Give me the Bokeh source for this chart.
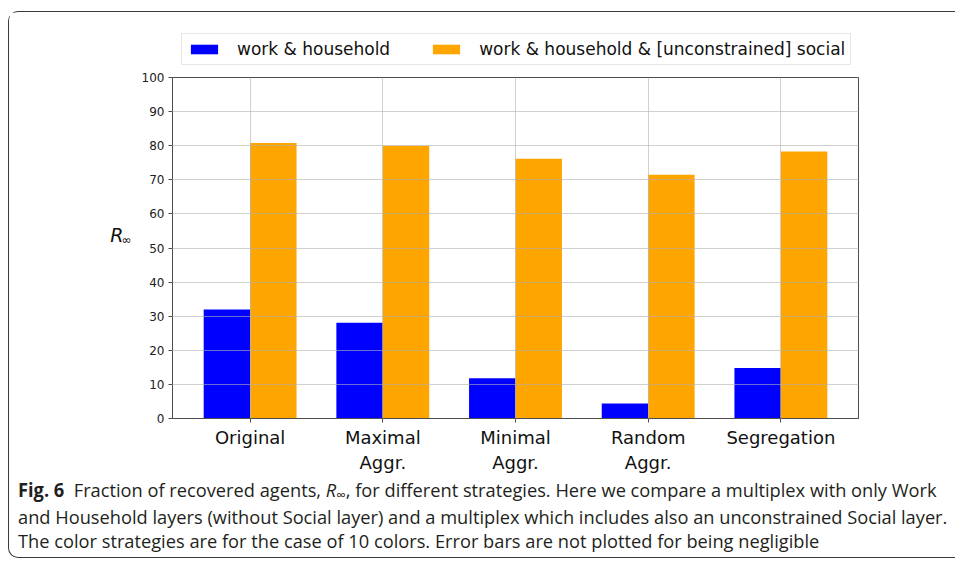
import numpy as np
from bokeh.plotting import figure
from bokeh.models import (Range1d, FixedTicker, Legend, LegendItem, Div,
                          ColumnDataSource, LinearAxis)
from bokeh.layouts import column
from bokeh.transform import dodge
from bokeh.embed import file_html
from bokeh.resources import INLINE

# ---------------- data ----------------
categories = ["Original", "Maximal\nAggr.", "Minimal\nAggr.", "Random\nAggr.", "Segregation"]
work_household = [32.0, 28.1, 11.8, 4.4, 14.8]
work_household_social = [80.8, 80.0, 76.2, 71.5, 78.3]
series_labels = ["work & household", "work & household & [unconstrained] social"]
series_colors = ["#0000ff", "#ffa500"]
y_ticks = [0, 10, 20, 30, 40, 50, 60, 70, 80, 90, 100]

caption_lines = [
    "<b>Fig.&nbsp;6</b>&nbsp;&nbsp;Fraction of recovered agents, <i>R</i><span style='font-size:14px;position:relative;top:3px'>&infin;</span>, for different strategies. Here we compare a multiplex with only Work",
    "and Household layers (without Social layer) and a multiplex which includes also an unconstrained Social layer.",
    "The color strategies are for the case of 10 colors. Error bars are not plotted for being negligible",
]

idx = list(range(len(categories)))
src = ColumnDataSource(dict(idx=idx, wh=work_household, whs=work_household_social))

BAR_W = 0.35

# ---------------- legend strip (above the axes) ----------------
# same bar renderers, but with the ranges set so that nothing is in view:
# only the legend of this strip is visible
lf = figure(width=946, height=60, output_backend="svg", toolbar_location=None,
            x_axis_type=None, y_axis_type=None,
            min_border_left=163, min_border_right=97, min_border_top=0,
            min_border_bottom=0,
            x_range=Range1d(10, 11), y_range=Range1d(200, 300))
lf.outline_line_color = None
lf.background_fill_color = "white"
lf.border_fill_color = "white"
lr1 = lf.vbar(x=dodge("idx", -BAR_W / 2), top="wh", width=BAR_W, source=src,
              fill_color=series_colors[0], line_color=None)
lr2 = lf.vbar(x=dodge("idx", BAR_W / 2), top="whs", width=BAR_W, source=src,
              fill_color=series_colors[1], line_color=None)
legend = Legend(items=[LegendItem(label=series_labels[0], renderers=[lr1]),
                       LegendItem(label=series_labels[1], renderers=[lr2])],
                orientation="horizontal", location=(9, 7),
                glyph_width=34, glyph_height=12, label_standoff=16, spacing=39,
                padding=5, margin=0,
                label_text_font="DejaVu Sans", label_text_font_size="17px",
                label_text_color="#111111",
                border_line_color="#d0d0d0", border_line_width=1,
                background_fill_color="white", background_fill_alpha=1)
lf.add_layout(legend)

# ---------------- main bar chart ----------------
p = figure(width=946, height=406, output_backend="svg", toolbar_location=None,
           x_range=Range1d(-0.585, 4.585), y_range=Range1d(0, 100),
           min_border_left=163, min_border_right=97, min_border_top=5,
           min_border_bottom=60)
p.background_fill_color = "white"
p.border_fill_color = "white"
p.outline_line_color = "#4d4d4d"
p.outline_line_width = 1

p.vbar(x=dodge("idx", -BAR_W / 2), top="wh", width=BAR_W, source=src,
       fill_color=series_colors[0], line_color=None)
p.vbar(x=dodge("idx", BAR_W / 2), top="whs", width=BAR_W, source=src,
       fill_color=series_colors[1], line_color=None)

p.xaxis.ticker = FixedTicker(ticks=idx)
p.xaxis.major_label_overrides = {i: c for i, c in enumerate(categories)}
p.yaxis.ticker = FixedTicker(ticks=y_ticks)

for ax in (p.xaxis, p.yaxis):
    ax.axis_line_color = "#4d4d4d"
    ax.major_tick_line_color = "#4d4d4d"
    ax.major_tick_out = 4
    ax.major_tick_in = 0
    ax.minor_tick_line_color = None
    ax.major_label_text_font = "DejaVu Sans"
    ax.major_label_standoff = 4
p.xaxis.major_label_text_font_size = "18px"
p.xaxis.major_label_text_color = "#111111"
p.yaxis.major_label_text_font_size = "12px"
p.yaxis.major_label_text_color = "#222222"

# y-axis label R_inf : small infinity on the main axis, italic R on an outer axis
p.yaxis.axis_label = "\u221e\n"
p.yaxis.axis_label_orientation = "horizontal"
p.yaxis.axis_label_text_font = "DejaVu Sans"
p.yaxis.axis_label_text_font_style = "normal"
p.yaxis.axis_label_text_font_size = "12px"
p.yaxis.axis_label_text_color = "#111111"
p.yaxis.axis_label_standoff = 7

r_axis = LinearAxis(ticker=FixedTicker(ticks=[]), axis_label="R\n",
                    axis_label_orientation="horizontal",
                    axis_label_text_font="DejaVu Sans",
                    axis_label_text_font_style="italic",
                    axis_label_text_font_size="19px",
                    axis_label_text_color="#111111",
                    axis_label_standoff=-5, axis_line_color=None,
                    major_tick_out=0, major_tick_in=0, minor_tick_out=0,
                    minor_tick_in=0, major_label_standoff=0,
                    major_tick_line_color=None, minor_tick_line_color=None)
p.add_layout(r_axis, "left")

p.xgrid.ticker = FixedTicker(ticks=idx)
for g in (p.xgrid, p.ygrid):
    g.grid_line_color = "#b0b0b0"
    g.grid_line_alpha = 0.6
    g.grid_line_width = 1
    g.level = "guide"

html = "".join(
    f"<div style='white-space:nowrap;transform:scaleX(0.96);transform-origin:0 50%'>{ln}</div>"
    for ln in caption_lines)
cap = Div(text=html, width=946, height=79, margin=0,
          styles={"font-family": "'Open Sans', sans-serif", "font-size": "19px",
                  "line-height": "24.5px", "color": "#231f20", "padding-left": "9px"})

layout = column(lf, p, cap, margin=(11, 0, 0, 8),
                styles={"border-left": "1px solid #3a3a3a", "border-top": "1px solid #3a3a3a",
                        "border-bottom": "1px solid #3a3a3a",
                        "border-top-left-radius": "10px",
                        "border-bottom-left-radius": "10px"})

open("out.html", "w").write(file_html(layout, INLINE))
